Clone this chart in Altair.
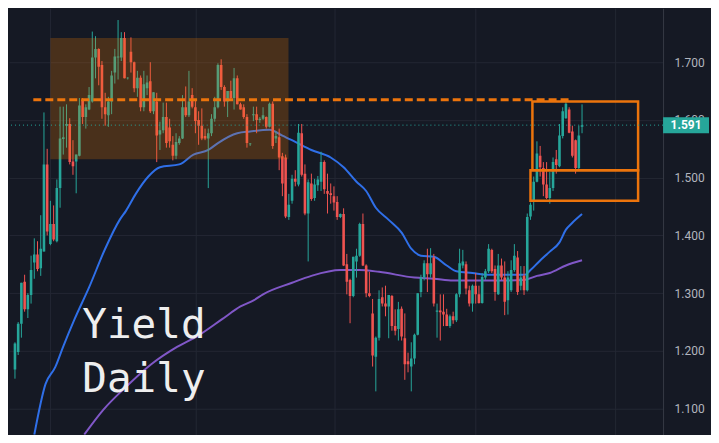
import altair as alt
import pandas as pd

# ---- daily candles ----
opens = [1.168,1.198,1.247,1.320,1.272,1.297,1.353,1.367,1.343,1.372,
         1.523,1.385,1.420,1.390,1.482,1.567,1.590,1.593,1.528,1.528,
         1.538,1.635,1.605,1.618,1.632,1.708,1.723,1.695,1.622,1.608,
         1.632,1.682,1.708,1.708,1.742,1.672,1.718,1.700,1.655,1.673,
         1.622,1.655,1.667,1.615,1.632,1.575,1.582,1.605,1.587,1.557,
         1.538,1.560,1.568,1.622,1.608,1.643,1.622,1.600,1.590,1.572,
         1.568,1.577,1.602,1.622,1.695,1.657,1.632,1.650,1.638,1.672,
         1.627,1.622,1.605,1.558,1.608,1.610,1.600,1.602,1.605,1.588,
         1.628,1.568,1.570,1.537,1.535,1.432,1.460,1.498,1.488,1.577,
         1.507,1.438,1.490,1.465,1.487,1.493,1.527,1.477,1.473,1.468,
         1.458,1.432,1.437,1.350,1.323,1.295,1.355,1.365,1.420,1.348,
         1.300,1.265,1.190,1.223,1.293,1.282,1.277,1.295,1.243,1.238,
         1.273,1.222,1.182,1.173,1.187,1.228,1.302,1.327,1.352,1.333,
         1.362,1.268,1.270,1.268,1.263,1.243,1.260,1.253,1.298,1.348,
         1.350,1.305,1.282,1.313,1.298,1.283,1.327,1.338,1.375,1.342,
         1.298,1.348,1.327,1.288,1.305,1.340,1.362,1.313,1.330,1.305,
         1.433,1.460,1.493,1.538,1.517,1.488,1.465,1.482,1.532,1.520,
         1.572,1.603,1.618,1.580,1.565,1.517,1.588]
highs = [1.215,1.250,1.318,1.332,1.300,1.365,1.395,1.390,1.435,1.613,
         1.550,1.460,1.452,1.497,1.623,1.623,1.627,1.603,1.565,1.540,
         1.638,1.638,1.627,1.657,1.753,1.745,1.724,1.702,1.647,1.640,
         1.685,1.723,1.773,1.752,1.752,1.674,1.743,1.701,1.685,1.677,
         1.685,1.677,1.700,1.648,1.647,1.597,1.630,1.630,1.602,1.572,
         1.577,1.572,1.643,1.658,1.685,1.655,1.635,1.615,1.620,1.585,
         1.585,1.610,1.640,1.698,1.705,1.660,1.650,1.668,1.690,1.677,
         1.630,1.627,1.610,1.560,1.623,1.623,1.605,1.622,1.606,1.630,
         1.632,1.580,1.585,1.543,1.540,1.472,1.505,1.513,1.593,1.593,
         1.523,1.497,1.507,1.498,1.503,1.545,1.530,1.507,1.490,1.485,
         1.468,1.438,1.447,1.368,1.325,1.363,1.377,1.422,1.438,1.350,
         1.337,1.290,1.225,1.305,1.310,1.313,1.297,1.297,1.272,1.285,
         1.277,1.265,1.197,1.215,1.230,1.300,1.332,1.357,1.377,1.378,
         1.368,1.282,1.298,1.298,1.273,1.263,1.268,1.300,1.377,1.375,
         1.355,1.313,1.315,1.335,1.313,1.335,1.342,1.385,1.377,1.348,
         1.368,1.360,1.355,1.338,1.357,1.385,1.373,1.347,1.347,1.438,
         1.457,1.502,1.563,1.555,1.527,1.527,1.510,1.535,1.548,1.593,
         1.622,1.635,1.622,1.590,1.566,1.590,1.627]
lows = [1.152,1.193,1.223,1.268,1.257,1.282,1.325,1.338,1.330,1.372,
        1.400,1.383,1.390,1.388,1.448,1.540,1.552,1.523,1.505,1.473,
        1.537,1.593,1.585,1.617,1.630,1.672,1.660,1.602,1.590,1.588,
        1.610,1.663,1.670,1.702,1.672,1.670,1.682,1.648,1.640,1.615,
        1.615,1.643,1.612,1.610,1.527,1.548,1.577,1.552,1.552,1.530,
        1.532,1.557,1.567,1.605,1.605,1.620,1.577,1.557,1.565,1.565,
        1.482,1.572,1.597,1.620,1.652,1.623,1.605,1.635,1.618,1.627,
        1.618,1.602,1.552,1.555,1.598,1.577,1.595,1.600,1.585,1.587,
        1.550,1.560,1.513,1.468,1.430,1.427,1.455,1.485,1.485,1.502,
        1.435,1.355,1.460,1.460,1.477,1.477,1.472,1.438,1.455,1.443,
        1.427,1.430,1.347,1.298,1.248,1.293,1.327,1.363,1.347,1.293,
        1.293,1.173,1.130,1.218,1.277,1.260,1.222,1.235,1.227,1.218,
        1.218,1.150,1.163,1.130,1.177,1.227,1.293,1.322,1.302,1.327,
        1.277,1.223,1.218,1.243,1.243,1.240,1.247,1.250,1.293,1.343,
        1.298,1.277,1.268,1.282,1.282,1.282,1.323,1.335,1.335,1.287,
        1.297,1.323,1.262,1.263,1.302,1.337,1.297,1.305,1.297,1.303,
        1.427,1.443,1.492,1.502,1.468,1.463,1.455,1.477,1.507,1.518,
        1.568,1.602,1.577,1.535,1.507,1.513,1.577]
closes = [1.213,1.247,1.318,1.272,1.297,1.340,1.367,1.342,1.377,1.523,
          1.407,1.420,1.393,1.482,1.568,1.570,1.593,1.527,1.520,1.540,
          1.625,1.605,1.622,1.643,1.708,1.723,1.692,1.622,1.610,1.632,
          1.677,1.710,1.710,1.742,1.672,1.673,1.700,1.655,1.673,1.622,
          1.662,1.665,1.615,1.648,1.573,1.582,1.605,1.560,1.563,1.538,
          1.562,1.568,1.622,1.608,1.632,1.623,1.598,1.590,1.568,1.568,
          1.577,1.602,1.622,1.695,1.657,1.632,1.650,1.638,1.672,1.627,
          1.618,1.605,1.560,1.559,1.610,1.600,1.602,1.608,1.588,1.628,
          1.555,1.572,1.535,1.490,1.433,1.453,1.498,1.493,1.578,1.505,
          1.438,1.492,1.463,1.488,1.497,1.527,1.480,1.472,1.470,1.457,
          1.432,1.437,1.348,1.320,1.295,1.363,1.365,1.420,1.348,1.300,
          1.295,1.192,1.223,1.290,1.282,1.277,1.297,1.243,1.235,1.272,
          1.225,1.177,1.177,1.187,1.228,1.300,1.327,1.352,1.333,1.352,
          1.282,1.270,1.267,1.263,1.243,1.260,1.253,1.298,1.352,1.355,
          1.308,1.282,1.313,1.298,1.283,1.328,1.338,1.377,1.338,1.302,
          1.348,1.327,1.285,1.327,1.340,1.365,1.302,1.327,1.305,1.432,
          1.453,1.493,1.542,1.518,1.488,1.465,1.482,1.527,1.522,1.573,
          1.615,1.628,1.578,1.538,1.517,1.573,1.591]

# ---- moving averages (by bar number) ----
blue_idx = [6, 9.5, 12.5, 15, 18.5, 23, 28, 32.5, 34.5, 37.5, 41.4, 45, 51, 55.4, 60,
            63, 69, 73, 79, 83, 87, 92, 98, 102, 106, 109, 112, 116, 120, 123, 126,
            130, 134, 137, 142, 146.5, 153.6, 158.3, 160, 162.7, 166, 169, 171, 173, 176]
blue_val = [1.055, 1.143, 1.172, 1.208, 1.255, 1.310, 1.377, 1.427, 1.443, 1.472, 1.502,
            1.518, 1.523, 1.540, 1.548, 1.560, 1.577, 1.580, 1.583, 1.573, 1.562, 1.548,
            1.535, 1.518, 1.493, 1.477, 1.448, 1.427, 1.405, 1.377, 1.365, 1.363, 1.348,
            1.338, 1.335, 1.332, 1.332, 1.332, 1.340, 1.355, 1.372, 1.388, 1.410, 1.422, 1.437]
purple_idx = [21.5, 27.4, 34.5, 42.3, 50.3, 57, 64.3, 70, 74.2, 77, 86, 92, 101, 107, 113,
              124, 130, 136, 143.5, 151.5, 158, 162, 166, 171, 176]
purple_val = [1.055, 1.098, 1.138, 1.177, 1.207, 1.227, 1.255, 1.277, 1.288, 1.298, 1.318,
              1.330, 1.340, 1.340, 1.337, 1.327, 1.325, 1.322, 1.322, 1.322, 1.323, 1.330,
              1.335, 1.348, 1.357]

# ---- drawings ----
zone_x = [11.0, 84.9]
zone_y = [1.532, 1.742]
level_x = [5.7, 172.5]
level_price = 1.635
box_x0 = [160.6, 160.0]
box_x1 = [193.4, 193.4]
box_lo = [1.513, 1.460]
box_hi = [1.632, 1.513]
month_ticks = [11.0, 56.0, 99.2, 143.0, 186.2]
price_ticks = [1.1, 1.2, 1.3, 1.4, 1.5, 1.6, 1.7]
label_lines = ["Yield", "Daily"]
label_at = [20.9, 1.222]

TEAL = "#26a69a"
RED = "#ef5350"
ORANGE = "#ec740c"
BG = "#151924"
GRID = "#232733"

W, H = 655, 427
AX = 48

candles = pd.DataFrame({"idx": list(range(len(closes))), "open": opens,
                        "high": highs, "low": lows, "close": closes})
blue_df = pd.DataFrame({"idx": blue_idx, "v": blue_val})
purple_df = pd.DataFrame({"idx": purple_idx, "v": purple_val})
zone_df = pd.DataFrame({"x0": [zone_x[0]], "x1": [zone_x[1]], "y0": [zone_y[0]], "y1": [zone_y[1]]})
level_df = pd.DataFrame({"x0": [level_x[0]], "x1": [level_x[1]], "p": [level_price]})
box_df = pd.DataFrame({"x0": box_x0, "x1": box_x1, "y0": box_lo, "y1": box_hi})
last_df = pd.DataFrame({"p": [closes[-1]]})
label_df = pd.DataFrame({"x": [label_at[0]], "y": [label_at[1]], "t": ["\n".join(label_lines)]})

xs = alt.Scale(domain=[-0.3, 199.6], nice=False, zero=False)
ys = alt.Scale(domain=[1.055, 1.7933], nice=False, zero=False)

x_axis = alt.Axis(values=month_ticks, labels=False, ticks=False, domain=False, grid=True,
                  gridColor=GRID, gridWidth=1, title=None, minExtent=0, maxExtent=0)
y_axis = alt.Axis(orient="right", values=price_ticks, format=".3f", labelColor="#b2b5be",
                  labelFont="Roboto", labelFontSize=12, labelPadding=11, ticks=False, tickSize=0,
                  domain=True, domainColor="#363a45", grid=True, gridColor=GRID, gridWidth=1,
                  title=None, minExtent=AX, maxExtent=AX, labelOverlap=False)


def X(f):
    return alt.X(f, scale=xs, axis=x_axis)


def Y(f):
    return alt.Y(f, scale=ys, axis=y_axis)


up = alt.condition("datum.close >= datum.open", alt.value(TEAL), alt.value(RED))

blue = alt.Chart(blue_df).mark_line(color="#2f6fe8", strokeWidth=2, interpolate="monotone",
                                    clip=True).encode(x=X("idx:Q"), y=Y("v:Q"))
purple = alt.Chart(purple_df).mark_line(color="#8057c7", strokeWidth=2, interpolate="monotone",
                                        clip=True).encode(x=X("idx:Q"), y=Y("v:Q"))
wicks = alt.Chart(candles).mark_rule(strokeWidth=1, clip=True).encode(
    x=X("idx:Q"), y=Y("low:Q"), y2="high:Q", color=up)
bodies = alt.Chart(candles).mark_bar(width=2.6, clip=True).encode(
    x=X("idx:Q"), y=Y("open:Q"), y2="close:Q", color=up)
zone = alt.Chart(zone_df).mark_rect(color="#f57c00", opacity=0.23, clip=True).encode(
    x=X("x0:Q"), x2="x1:Q", y=Y("y0:Q"), y2="y1:Q")
level = alt.Chart(level_df).mark_rule(color=ORANGE, strokeWidth=3, strokeDash=[8, 4], clip=True).encode(
    x=X("x0:Q"), x2="x1:Q", y=Y("p:Q"))
boxes = alt.Chart(box_df).mark_rect(fill="transparent", stroke=ORANGE, strokeWidth=2.5, clip=True).encode(
    x=X("x0:Q"), x2="x1:Q", y=Y("y0:Q"), y2="y1:Q")
price_line = alt.Chart(last_df).mark_rule(color=TEAL, strokeWidth=1, strokeDash=[1, 3]).encode(
    y=Y("p:Q"))
label = alt.Chart(label_df).mark_text(align="left", baseline="alphabetic", font="DejaVu Sans Mono",
                                      fontSize=41, lineBreak="\n", lineHeight=54,
                                      color="#eeeeee").encode(x=X("x:Q"), y=Y("y:Q"), text="t:N")
tag = alt.Chart(last_df).mark_tick(orient="horizontal", thickness=16, size=46, color=TEAL,
                                   opacity=1).encode(x=alt.value(W + 23), y=Y("p:Q"))
tag_text = alt.Chart(last_df).mark_text(color="#ffffff", font="Roboto", fontSize=12, fontWeight="bold",
                                        align="center", baseline="middle").encode(
    x=alt.value(W + 23), y=Y("p:Q"), text=alt.Text("p:Q", format=".3f"))

chart = alt.layer(blue, purple, wicks, bodies, zone, level, boxes, price_line, label, tag, tag_text).properties(
    width=W, height=H, padding=0, background=BG
).configure_view(strokeWidth=0)

chart.save("out.html", embed_options={"renderer": "svg", "actions": False})
